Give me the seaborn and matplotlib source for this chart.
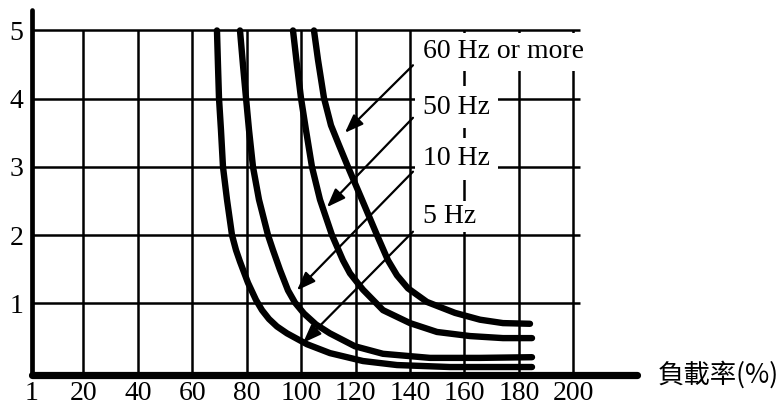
import matplotlib
matplotlib.use("Agg")
import matplotlib.pyplot as plt
import seaborn as sns
import pandas as pd

# Load ratio (%) vs. allowable value for each output frequency
load_5hz = [69.10, 69.47, 69.84, 70.57, 71.31, 72.78, 74.62, 76.09, 77.56, 80.50, 83.43,
            85.64, 88.21, 91.15, 94.82, 98.49, 102.17, 110.62, 122.74, 135.23, 154.70, 184.83]
value_5hz = [5.0, 4.49, 4.01, 3.54, 3.0, 2.52, 2.0, 1.78, 1.61, 1.30, 1.05,
             0.90, 0.77, 0.66, 0.56, 0.48, 0.40, 0.27, 0.154, 0.095, 0.066, 0.066]

load_10hz = [77.56, 78.66, 79.77, 80.87, 82.33, 84.53, 87.84, 89.68, 92.25, 95.19,
             97.76, 101.07, 105.48, 110.58, 119.80, 130.09, 147.35, 165.72, 184.83]
value_10hz = [5.0, 4.49, 4.01, 3.54, 3.0, 2.52, 2.0, 1.78, 1.49, 1.19,
              1.01, 0.85, 0.69, 0.56, 0.37, 0.26, 0.20, 0.20, 0.21]

load_50hz = [97.03, 98.49, 99.96, 101.80, 104.0, 106.94, 111.35, 115.39, 117.96, 122.74,
             130.09, 140.01, 149.93, 162.05, 174.17, 184.83]
value_50hz = [5.0, 4.49, 4.01, 3.54, 3.0, 2.52, 2.0, 1.63, 1.44, 1.20,
              0.90, 0.71, 0.58, 0.52, 0.49, 0.49]

load_60hz = [104.74, 106.21, 108.41, 110.98, 113.92, 117.23, 122.37, 127.89, 131.93, 135.23,
             139.27, 146.25, 156.54, 165.72, 174.17, 184.09]
value_60hz = [5.0, 4.57, 4.01, 3.61, 3.32, 3.0, 2.52, 2.0, 1.63, 1.41,
              1.22, 1.02, 0.86, 0.76, 0.71, 0.70]

x_ticks = [1, 20, 40, 60, 80, 100, 120, 140, 160, 180, 200]
y_ticks = [1, 2, 3, 4, 5]
curve_names = ["5 Hz", "10 Hz", "50 Hz", "60 Hz or more"]
x_label = "負載率(%)"

curves = pd.concat(
    [
        pd.DataFrame({"load": x, "value": y, "freq": name})
        for x, y, name in zip(
            [load_5hz, load_10hz, load_50hz, load_60hz],
            [value_5hz, value_10hz, value_50hz, value_60hz],
            curve_names,
        )
    ],
    ignore_index=True,
)

sns.set_theme(style="white")
plt.rcParams["font.family"] = ["Liberation Serif", "Noto Sans CJK TC", "DejaVu Sans"]

fig = plt.figure(figsize=(7.84, 4.07), dpi=100)
ax = fig.add_axes([0.0403, 0.0786, 0.7722, 0.8968])
ax.set_xlim(1, 223.4)
ax.set_ylim(-0.051, 5.30)

# grid
ax.vlines(x_ticks[1:], -0.05, 5, color="black", lw=1.8, zorder=1)
ax.hlines(y_ticks, 1, 202.5, color="black", lw=1.8, zorder=1)

# curves
for name in curve_names:
    sub = curves[curves["freq"] == name]
    sns.lineplot(data=sub, x="load", y="value", ax=ax, color="black", lw=4.6,
                 sort=False, estimator=None, zorder=3,
                 solid_capstyle="round", solid_joinstyle="round")

# axis lines
for side in ["top", "right"]:
    ax.spines[side].set_visible(False)
ax.spines["left"].set_linewidth(3.4)
ax.spines["bottom"].set_linewidth(5.2)
for side in ["left", "bottom"]:
    ax.spines[side].set_color("black")
    ax.spines[side].set_capstyle("round")
    ax.spines[side].set_zorder(4)

ax.set_xticks(x_ticks)
ax.set_xticklabels([str(t) for t in x_ticks])
ax.set_yticks(y_ticks)
ax.set_yticklabels([str(t) for t in y_ticks])
ax.tick_params(axis="both", length=0, labelsize=20, colors="black")
ax.tick_params(axis="x", pad=4)
ax.tick_params(axis="y", pad=6)

ax.set_ylabel("")
ax.set_xlabel(x_label, fontsize=19, family=["Noto Sans CJK TC", "DejaVu Sans"],
              color="black")
ax.xaxis.set_label_coords(1.0347, 0.0)
ax.xaxis.label.set_ha("left")
ax.xaxis.label.set_va("center")

# curve labels with pointers
label_pos = {
    "60 Hz or more": (144.8, 4.685),
    "50 Hz": (144.8, 3.878),
    "10 Hz": (144.8, 3.116),
    "5 Hz": (144.8, 2.27),
}
label_pad = {"60 Hz or more": 0.25, "50 Hz": 0.3, "10 Hz": 0.3, "5 Hz": 0.1}
pointers = {
    "60 Hz or more": ((141.1, 4.49), (116.1, 3.50)),
    "50 Hz": ((141.1, 3.72), (109.5, 2.41)),
    "10 Hz": ((141.1, 2.93), (98.5, 1.19)),
    "5 Hz": ((141.1, 2.05), (100.7, 0.42)),
}
for name in curve_names:
    tx, ty = label_pos[name]
    ax.text(tx, ty, name, fontsize=20, ha="left", va="center", color="black",
            zorder=5,
            bbox=dict(boxstyle=f"square,pad={label_pad[name]}", fc="white", ec="none"))
    tail, head = pointers[name]
    ax.annotate("", xy=head, xytext=tail, zorder=6,
                arrowprops=dict(arrowstyle="-|>,head_length=0.8,head_width=0.3",
                                mutation_scale=14, lw=1.6, color="black",
                                shrinkA=0, shrinkB=0))

fig.savefig("out.png", dpi=100)
